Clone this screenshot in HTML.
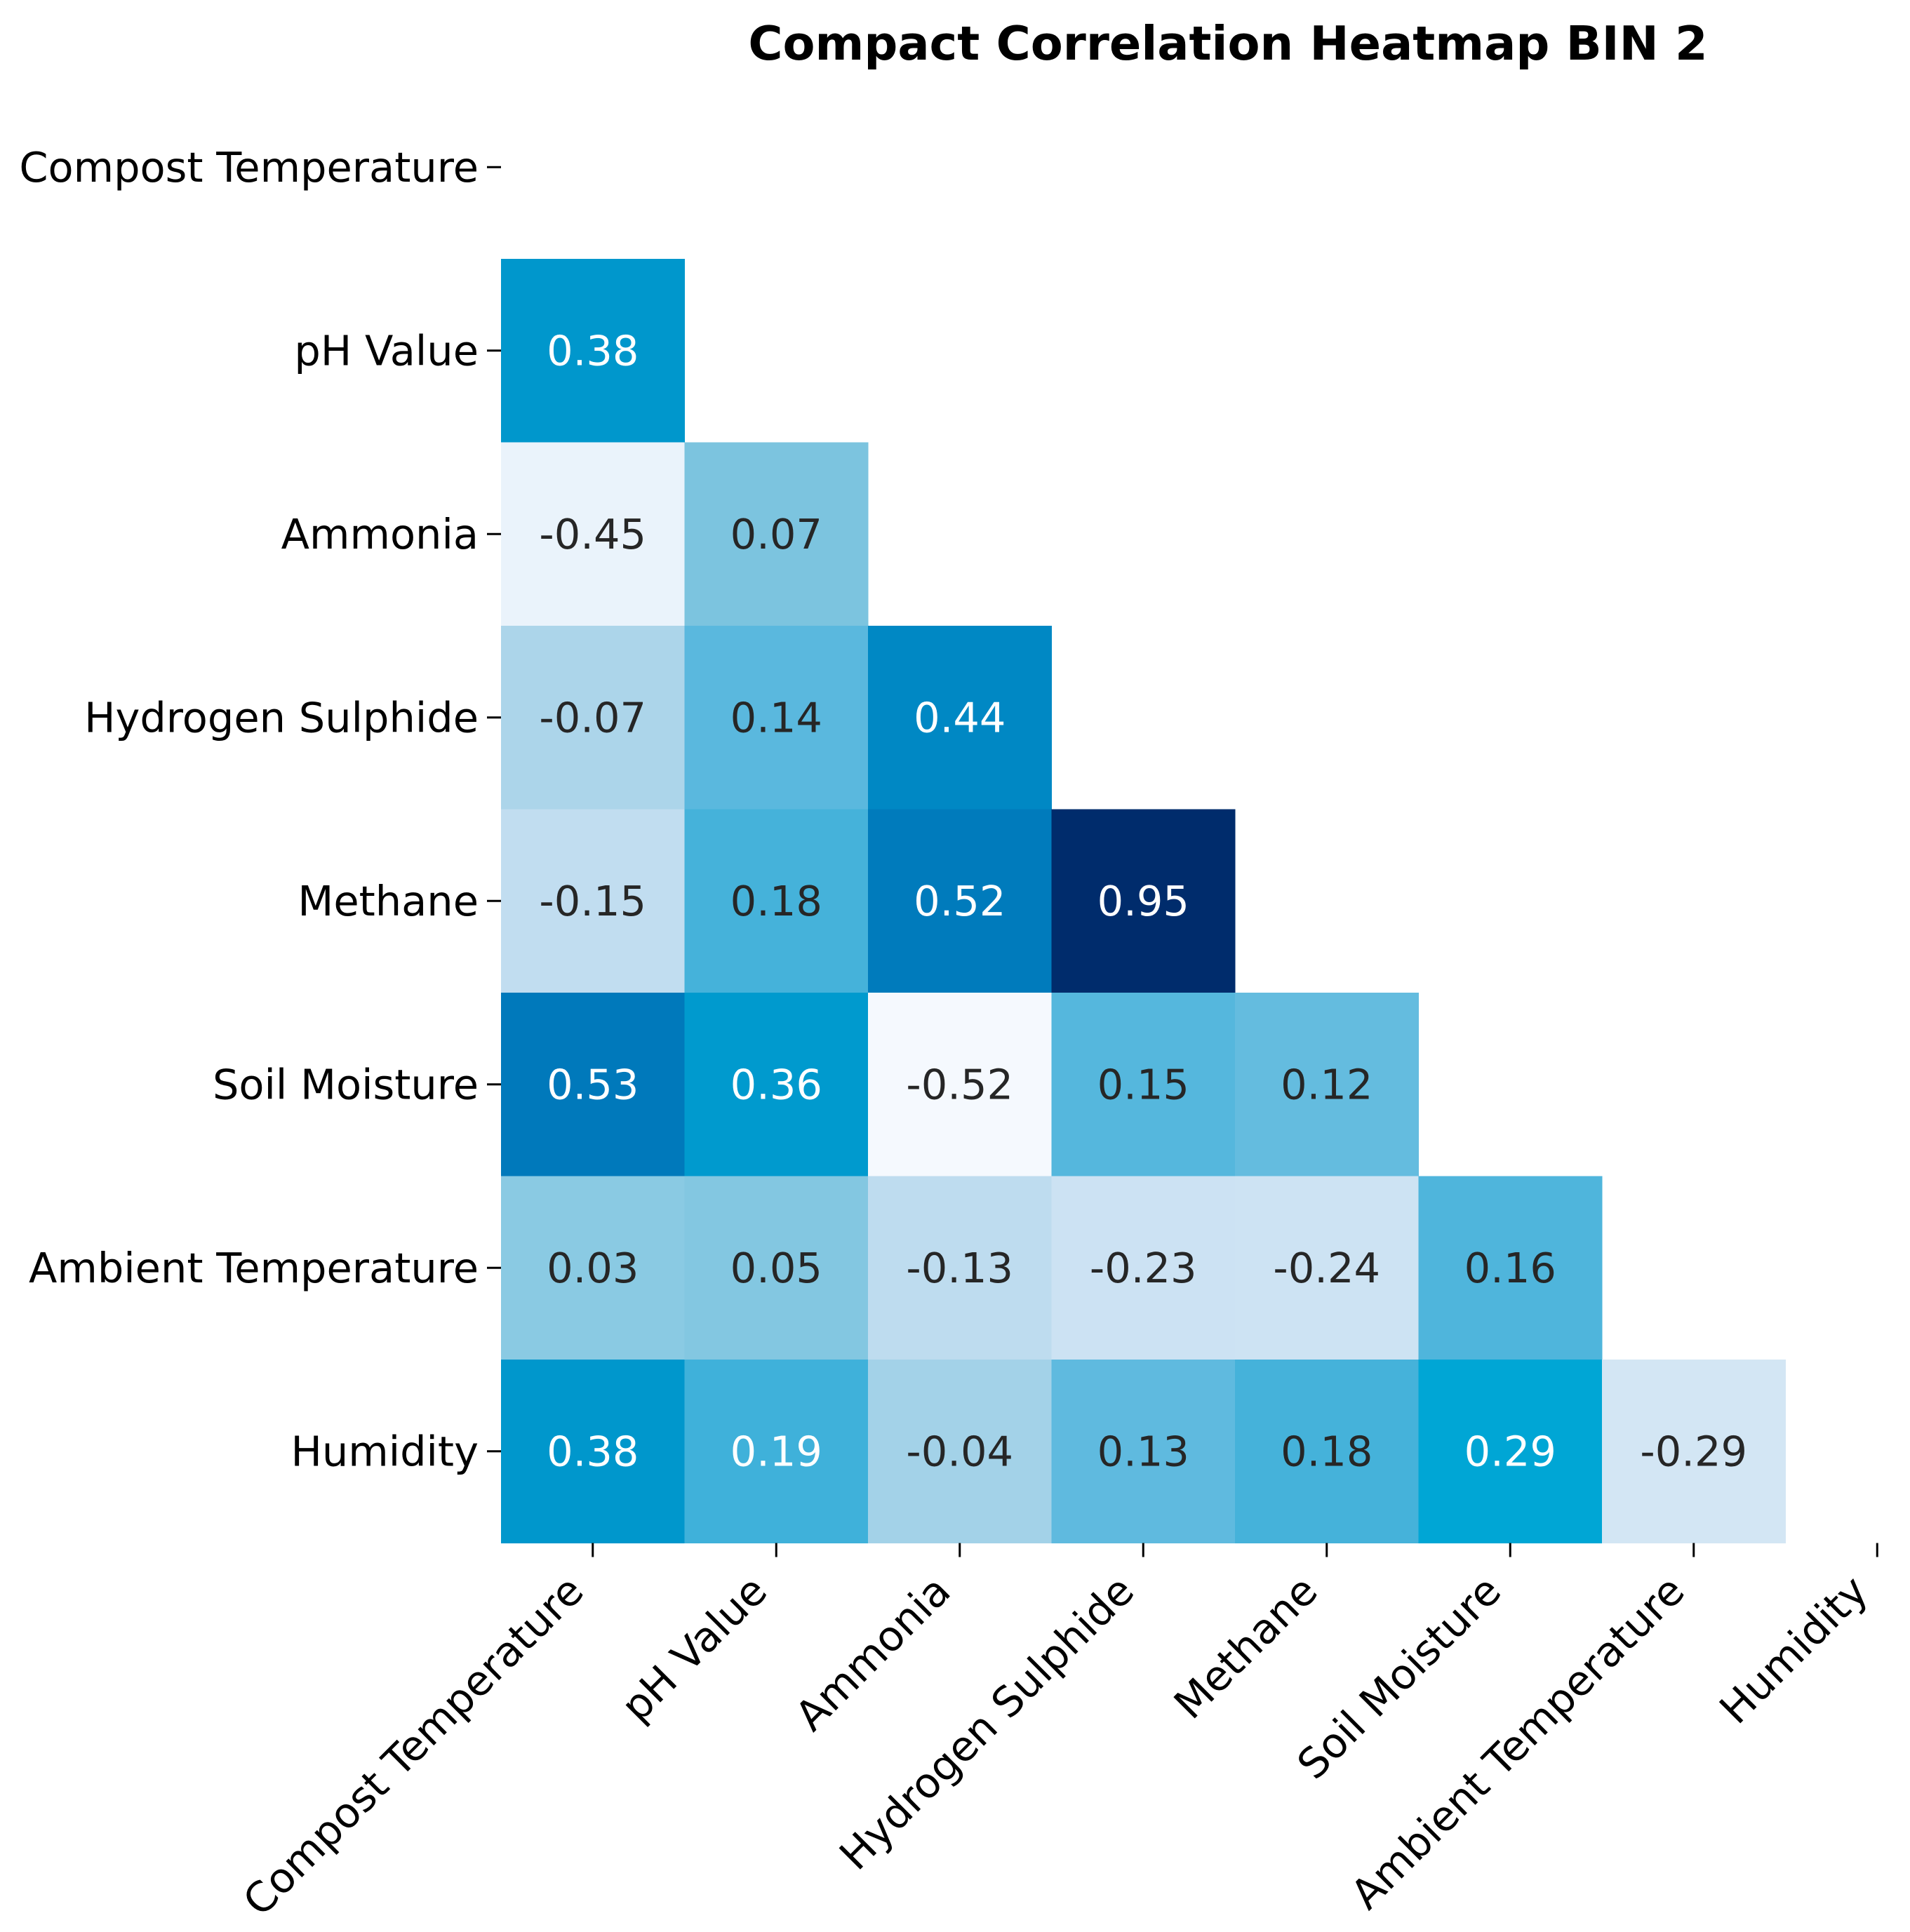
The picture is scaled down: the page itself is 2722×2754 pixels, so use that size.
<!DOCTYPE html>
<html><head><meta charset="utf-8"><style>
html,body{margin:0;padding:0;background:#fff;}
svg{display:block;font-family:"DejaVu Sans","Liberation Sans",sans-serif;}
</style></head><body>
<svg id="chart" width="2722" height="2754" viewBox="0 0 2722 2754" xmlns="http://www.w3.org/2000/svg">
<rect width="2722" height="2754" fill="#fff"/>
<text x="1750" y="85" text-anchor="middle" font-size="67" font-weight="bold" fill="#000">Compact Correlation Heatmap BIN 2</text>
<g id="cells"></g><g id="ylab"></g><g id="xlab"></g>
</svg>
<script>
const labels = ["Compost Temperature","pH Value","Ammonia","Hydrogen Sulphide","Methane","Soil Moisture","Ambient Temperature","Humidity"];
const row1 = [0.38];
const row2 = [-0.45, 0.07];
const row3 = [-0.07, 0.14, 0.44];
const row4 = [-0.15, 0.18, 0.52, 0.95];
const row5 = [0.53, 0.36, -0.52, 0.15, 0.12];
const row6 = [0.03, 0.05, -0.13, -0.23, -0.24, 0.16];
const row7 = [0.38, 0.19, -0.04, 0.13, 0.18, 0.29, -0.29];
const rows = [[], row1, row2, row3, row4, row5, row6, row7];

const NS = "http://www.w3.org/2000/svg";
const left = 714, top0 = 107.5, cell = 261.5;
function xPos(i){ return left + i*cell; }
function yPos(j){ return top0 + j*cell; }
const stops = [[-0.52,"#f5f9fe"],[-0.45,"#eaf3fb"],[-0.29,"#d3e6f4"],[-0.24,"#cde3f3"],[-0.13,"#bedcef"],[-0.04,"#a3d2e8"],[0.03,"#8acae3"],[0.07,"#7cc4df"],[0.13,"#5fbadf"],[0.18,"#45b2da"],[0.29,"#00a6d5"],[0.38,"#0097cc"],[0.44,"#0088c4"],[0.53,"#0079bb"],[0.95,"#002c6c"]];
function hex(h){return [1,3,5].map(k=>parseInt(h.substr(k,2),16));}
function color(v){
  if(v<=stops[0][0]) return stops[0][1];
  for(let k=1;k<stops.length;k++){
    if(v<=stops[k][0]){
      const a=hex(stops[k-1][1]), b=hex(stops[k][1]);
      const t=(v-stops[k-1][0])/(stops[k][0]-stops[k-1][0]);
      return "rgb("+a.map((c,i)=>Math.round(c+(b[i]-c)*t)).join(",")+")";
    }
  }
  return stops[stops.length-1][1];
}
function mk(tag, attrs, parent){
  const e=document.createElementNS(NS,tag);
  for(const k in attrs) e.setAttribute(k,attrs[k]);
  parent.appendChild(e); return e;
}
const gc=document.getElementById("cells"), gy=document.getElementById("ylab"), gx=document.getElementById("xlab");
rows.forEach((r,j)=>{
  r.forEach((v,i)=>{
    const rc=mk("rect",{x:xPos(i),y:yPos(j),width:cell+0.5,height:cell+0.5,fill:color(v)},gc);
    
    
    const t=mk("text",{x:xPos(i)+cell/2,y:yPos(j)+cell/2,"text-anchor":"middle","dominant-baseline":"central","font-size":"59",fill:(v>=0.185?"#ffffff":"#262626")},gc);
    t.textContent=v.toFixed(2);
    
    
  });
});
labels.forEach((lab,j)=>{
  const cy=yPos(j)+cell/2;
  const tk=mk("line",{x1:left-20,x2:left,y1:cy,y2:cy,stroke:"#000","stroke-width":"3"},gy);
  
  
  const t=mk("text",{x:left-32,y:cy,"text-anchor":"end","dominant-baseline":"central","font-size":"59",fill:"#000"},gy);
  t.textContent=lab;
  
  
});
const bottom=yPos(8);
labels.forEach((lab,i)=>{
  const cx=xPos(i)+cell/2;
  const tk=mk("line",{x1:cx,x2:cx,y1:bottom,y2:bottom+20,stroke:"#000","stroke-width":"3"},gx);
  
  
  const ex=cx-10, ey=bottom+72;
  const t=mk("text",{x:ex,y:ey,"text-anchor":"end","font-size":"59",fill:"#000",transform:"rotate(-45 "+ex+" "+ey+")"},gx);
  t.textContent=lab;
  
  
});
</script>
</body></html>
